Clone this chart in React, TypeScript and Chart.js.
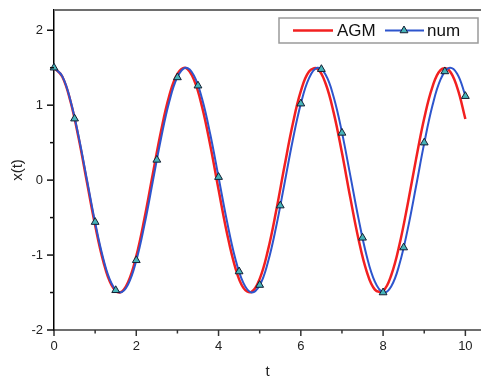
import React, { useEffect, useRef } from "react";
import { Chart, registerables } from "chart.js";

Chart.register(...registerables);

// time grid for the curves
const tLine = [0, 0.2, 0.4, 0.6, 0.8, 1, 1.2, 1.4, 1.6, 1.8, 2, 2.2, 2.4, 2.6, 2.8, 3, 3.2, 3.4, 3.6, 3.8, 4, 4.2, 4.4, 4.6, 4.8, 5, 5.2, 5.4, 5.6, 5.8, 6, 6.2, 6.4, 6.6, 6.8, 7, 7.2, 7.4, 7.6, 7.8, 8, 8.2, 8.4, 8.6, 8.8, 9, 9.2, 9.4, 9.6, 9.8, 10];

// AGM solution x(t)
const agmX = [1.5, 1.383, 1.052, 0.557, -0.025, -0.603, -1.087, -1.403, -1.499, -1.363, -1.015, -0.509, 0.076, 0.649, 1.122, 1.419, 1.497, 1.341, 0.977, 0.461, -0.126, -0.694, -1.153, -1.435, -1.492, -1.318, -0.938, -0.413, 0.177, 0.738, 1.186, 1.449, 1.486, 1.293, 0.897, 0.364, -0.227, -0.782, -1.217, -1.461, -1.479, -1.266, -0.856, -0.314, 0.277, 0.825, 1.245, 1.472, 1.469, 1.238, 0.816];

// numerical solution x(t)
const numX = [1.5, 1.387, 1.063, 0.58, 0.008, -0.565, -1.052, -1.38, -1.5, -1.392, -1.074, -0.594, -0.023, 0.551, 1.041, 1.374, 1.5, 1.398, 1.085, 0.608, 0.039, -0.536, -1.032, -1.368, -1.499, -1.404, -1.096, -0.623, -0.055, 0.522, 1.018, 1.362, 1.499, 1.409, 1.106, 0.637, 0.07, -0.507, -1.009, -1.355, -1.498, -1.415, -1.117, -0.651, -0.086, 0.493, 0.995, 1.348, 1.497, 1.42, 1.127];

// numerical solution markers
const markT = [0, 0.5, 1, 1.5, 2, 2.5, 3, 3.5, 4, 4.5, 5, 5.5, 6, 6.5, 7, 7.5, 8, 8.5, 9, 9.5, 10];
const markX = [1.5, 0.82, -0.56, -1.47, -1.07, 0.27, 1.37, 1.26, 0.04, -1.22, -1.4, -0.34, 1.02, 1.48, 0.63, -0.77, -1.5, -0.9, 0.5, 1.45, 1.12];

// axes
const xMajor = [0, 2, 4, 6, 8, 10];
const xMinor = [1, 3, 5, 7, 9];
const yMajor = [-2, -1, 0, 1, 2];
const yMinor = [-1.5, -0.5, 0.5, 1.5];
const xMin = 0;
const xMax = 10.38;
const yMin = -2;
const yMax = 2.27;

const labelAGM = "AGM";
const labelNum = "num";
const xTitle = "t";
const yTitle = "x(t)";

const RED = "rgb(242,32,32)";
const BLUE = "rgb(45,85,205)";
const TEAL = "rgb(70,180,185)";
const MARK_EDGE = "rgb(20,30,50)";
const FONT = "'Liberation Sans', Arial, sans-serif";

function triangle(ctx: CanvasRenderingContext2D, cx: number, cy: number, r: number) {
  ctx.beginPath();
  ctx.moveTo(cx, cy - r);
  ctx.lineTo(cx + r * Math.cos(Math.PI / 6), cy + r * 0.5);
  ctx.lineTo(cx - r * Math.cos(Math.PI / 6), cy + r * 0.5);
  ctx.closePath();
  ctx.fillStyle = TEAL;
  ctx.fill();
  ctx.lineWidth = 1;
  ctx.strokeStyle = MARK_EDGE;
  ctx.stroke();
}

const framePlugin = {
  id: "frameAndLegend",
  afterDraw(chart: any) {
    const ctx: CanvasRenderingContext2D = chart.ctx;
    const { left, right, top, bottom } = chart.chartArea;
    const xs = chart.scales.x;
    const ys = chart.scales.y;
    ctx.save();
    // top frame line
    ctx.strokeStyle = "#6e6e6e";
    ctx.lineWidth = 2;
    ctx.beginPath();
    ctx.moveTo(left, top);
    ctx.lineTo(right, top);
    ctx.stroke();

    // x ticks
    ctx.strokeStyle = "#333";
    ctx.lineWidth = 1.5;
    xMajor.forEach((v) => {
      const p = xs.getPixelForValue(v);
      ctx.beginPath();
      ctx.moveTo(p, bottom);
      ctx.lineTo(p, bottom + 6);
      ctx.stroke();
    });
    xMinor.forEach((v) => {
      const p = xs.getPixelForValue(v);
      ctx.beginPath();
      ctx.moveTo(p, bottom);
      ctx.lineTo(p, bottom + 3.5);
      ctx.stroke();
    });
    // y ticks
    ctx.strokeStyle = "#111";
    yMajor.forEach((v) => {
      const p = ys.getPixelForValue(v);
      ctx.beginPath();
      ctx.moveTo(left, p);
      ctx.lineTo(left - 7, p);
      ctx.stroke();
    });
    yMinor.forEach((v) => {
      const p = ys.getPixelForValue(v);
      ctx.beginPath();
      ctx.moveTo(left, p);
      ctx.lineTo(left - 4, p);
      ctx.stroke();
    });

    // legend box
    const bw = 199;
    const bh = 25;
    const bx = right - 3 - bw;
    const by = top + 8;
    ctx.fillStyle = "#ffffff";
    ctx.fillRect(bx, by, bw, bh);
    ctx.strokeStyle = "#9a9a9a";
    ctx.lineWidth = 1.5;
    ctx.strokeRect(bx, by, bw, bh);
    const cy = by + bh / 2;
    // AGM entry
    ctx.strokeStyle = RED;
    ctx.lineWidth = 2.5;
    ctx.beginPath();
    ctx.moveTo(bx + 14, cy);
    ctx.lineTo(bx + 54, cy);
    ctx.stroke();
    ctx.fillStyle = "#111";
    ctx.font = `17px ${FONT}`;
    ctx.textBaseline = "middle";
    ctx.textAlign = "left";
    ctx.fillText(labelAGM, bx + 58, cy + 1);
    // num entry
    ctx.strokeStyle = BLUE;
    ctx.lineWidth = 2;
    ctx.beginPath();
    ctx.moveTo(bx + 106, cy);
    ctx.lineTo(bx + 145, cy);
    ctx.stroke();
    triangle(ctx, bx + 125, cy, 4.5);
    ctx.fillStyle = "#111";
    ctx.fillText(labelNum, bx + 148, cy + 1);
    ctx.restore();
  },
};

export default function App() {
  const ref = useRef<HTMLCanvasElement | null>(null);

  useEffect(() => {
    if (!ref.current) return;
    const chart = new Chart(ref.current, {
      type: "line",
      data: {
        datasets: [
          {
            label: labelAGM,
            data: tLine.map((t, i) => ({ x: t, y: agmX[i] })),
            borderColor: RED,
            borderWidth: 2.5,
            pointRadius: 0,
            tension: 0.4,
            fill: false,
            order: 3,
          },
          {
            label: labelNum,
            data: tLine.map((t, i) => ({ x: t, y: numX[i] })),
            borderColor: BLUE,
            borderWidth: 2,
            pointRadius: 0,
            tension: 0.4,
            fill: false,
            order: 2,
          },
          {
            label: labelNum + " points",
            data: markT.map((t, i) => ({ x: t, y: markX[i] })),
            showLine: false,
            pointStyle: "triangle",
            pointRadius: 4.5,
            pointBackgroundColor: TEAL,
            pointBorderColor: MARK_EDGE,
            pointBorderWidth: 1,
            clip: false as any,
            order: 1,
          },
        ],
      },
      options: {
        animation: false,
        responsive: false,
        events: [],
        layout: { autoPadding: false, padding: { top: 10, left: 0, right: 0, bottom: 0 } },
        plugins: { legend: { display: false }, tooltip: { enabled: false } },
        scales: {
          x: {
            type: "linear",
            min: xMin,
            max: xMax,
            afterBuildTicks: (s: any) => {
              s.ticks = xMajor.map((v) => ({ value: v }));
            },
            afterFit: (s: any) => {
              s.height = 51;
              s.paddingLeft = 0;
              s.paddingRight = 0;
            },
            grid: { drawOnChartArea: false, drawTicks: false },
            border: { display: true, color: "#6e6e6e", width: 2 },
            ticks: {
              padding: 9,
              color: "#222",
              font: { family: FONT, size: 13 },
              maxRotation: 0,
              autoSkip: false,
              callback: (v: any) => String(v),
            },
            title: {
              display: true,
              text: xTitle,
              color: "#222",
              font: { family: FONT, size: 15 },
              padding: { top: 0, bottom: 0 },
            },
          },
          y: {
            type: "linear",
            min: yMin,
            max: yMax,
            afterBuildTicks: (s: any) => {
              s.ticks = yMajor.map((v) => ({ value: v }));
            },
            afterFit: (s: any) => {
              s.width = 54;
              s.paddingTop = 0;
              s.paddingBottom = 0;
            },
            grid: { drawOnChartArea: false, drawTicks: false },
            border: { display: true, color: "#000", width: 1.5 },
            ticks: {
              padding: 11,
              color: "#222",
              font: { family: FONT, size: 13 },
              autoSkip: false,
              callback: (v: any) => String(v),
            },
            title: {
              display: true,
              text: yTitle,
              color: "#222",
              font: { family: FONT, size: 15 },
              padding: { top: 9, bottom: 0 },
            },
          },
        },
      },
      plugins: [framePlugin],
    });
    return () => chart.destroy();
  }, []);

  return (
    <div style={{ position: "fixed", left: 0, top: 0, width: 481, height: 381, background: "#fff" }}>
      <canvas ref={ref} width={481} height={381} style={{ display: "block" }} />
    </div>
  );
}
